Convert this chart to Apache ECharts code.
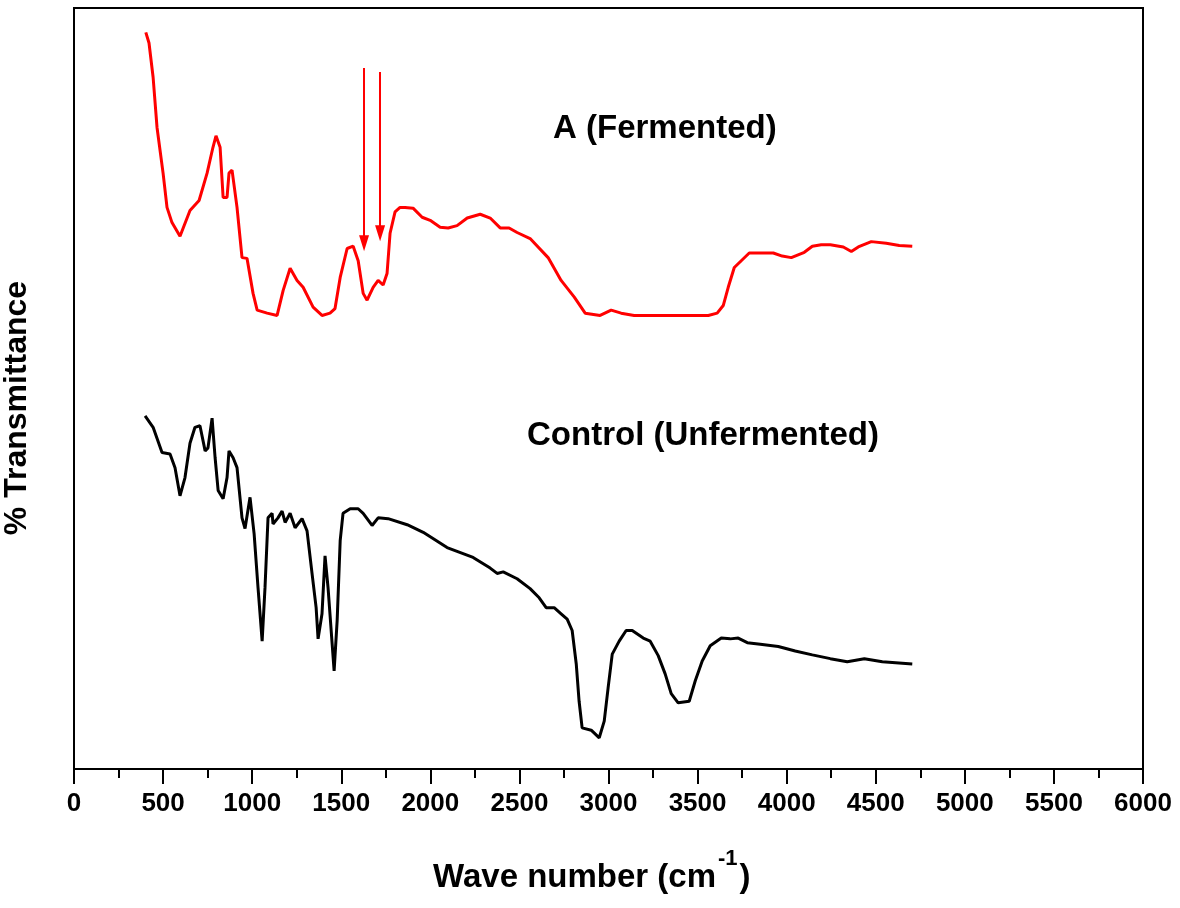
<!DOCTYPE html>
<html>
<head>
<meta charset="utf-8">
<script src="https://cdn.jsdelivr.net/npm/echarts@6/dist/echarts.min.js"></script>
<style>html,body{margin:0;padding:0;background:#fff}#c{width:1180px;height:908px}</style>
</head>
<body>
<div id="c"></div>
<script>
// Wavenumber (cm-1) and relative transmittance (arbitrary 0-100 scale)
const fermentedX = [403,421,444,466,500,522,550,595,651,702,747,780,797,820,837,859,870,887,915,943,971,1005,1028,1084,1140,1174,1213,1252,1286,1342,1392,1437,1465,1494,1533,1567,1595,1623,1645,1679,1707,1735,1757,1774,1802,1830,1858,1903,1954,1999,2055,2100,2150,2207,2280,2336,2392,2442,2487,2560,2661,2734,2808,2869,2953,3015,3071,3144,3560,3610,3644,3672,3706,3790,3925,3975,4026,4099,4144,4194,4245,4318,4363,4402,4475,4559,4632,4705];
const fermentedY = [96.8,95.4,90.9,84.3,78.3,73.8,71.8,70.0,73.4,74.7,78.3,81.7,83.2,81.7,75.1,75.1,78.3,78.7,73.8,67.2,67.1,62.5,60.3,59.9,59.6,62.9,65.8,64.2,63.3,60.7,59.6,59.9,60.5,64.6,68.4,68.7,66.8,62.5,61.6,63.3,64.2,63.6,65.1,70.4,73.2,73.8,73.8,73.7,72.5,72.1,71.2,71.1,71.4,72.4,72.9,72.4,71.1,71.1,70.5,69.7,67.2,64.2,62.0,59.9,59.6,60.3,59.9,59.6,59.6,59.9,60.9,63.3,65.9,67.8,67.8,67.4,67.2,67.9,68.7,68.9,68.9,68.6,68.0,68.6,69.3,69.1,68.8,68.7];
const controlX = [399,444,494,539,567,595,623,651,679,707,736,752,775,792,809,837,859,870,893,915,943,960,988,1011,1033,1056,1072,1089,1112,1117,1145,1168,1185,1213,1241,1280,1308,1336,1359,1370,1392,1409,1426,1449,1460,1477,1494,1510,1550,1595,1623,1673,1707,1763,1870,1960,2094,2240,2336,2375,2409,2487,2560,2611,2650,2695,2734,2768,2796,2819,2835,2852,2903,2948,2976,2998,3021,3060,3099,3133,3195,3234,3279,3318,3352,3391,3453,3487,3526,3571,3633,3683,3728,3779,3852,3953,4048,4144,4245,4340,4436,4537,4705];
const controlY = [46.4,44.9,41.6,41.4,39.6,35.9,38.3,42.8,44.9,45.1,41.8,42.2,46.1,40.9,36.6,35.5,38.3,41.8,40.9,39.6,33.0,31.6,35.7,30.9,23.8,16.8,23.8,33.0,33.6,32.2,33.0,33.9,32.4,33.6,31.7,32.9,31.3,25.7,21.2,17.1,20.4,28.0,23.8,16.4,12.9,19.5,30.0,33.6,34.2,34.2,33.6,32.0,33.0,32.9,32.1,31.1,29.1,27.8,26.4,25.7,25.9,25.0,23.7,22.5,21.2,21.2,20.4,19.7,18.2,13.8,8.9,5.4,5.1,4.1,6.3,10.7,15.1,16.8,18.2,18.2,17.2,16.8,14.9,12.5,9.9,8.7,8.9,11.6,14.2,16.2,17.2,17.1,17.2,16.6,16.4,16.1,15.5,15.0,14.5,14.1,14.5,14.1,13.8];
// Arrow markers on fermented spectrum: [wavenumber, start, end]
const arrowX = [1628, 1718];
const arrowTop = [92.1, 91.6];
const arrowTip = [69.1, 70.4];
const xTicks = {min: 0, max: 6000, interval: 500};
const labels = {fermented: 'A (Fermented)', control: 'Control (Unfermented)', yTitle: '% Transmittance', xTitle: 'Wave number (cm', xSup: '-1'};

const zip = (a, b) => a.map((v, i) => [v, b[i]]);
const FONT = '"Liberation Sans", Arial, sans-serif';

const chart = echarts.init(document.getElementById('c'));
chart.setOption({
  animation: false,
  backgroundColor: '#fff',
  grid: {left: 74, right: 37, top: 8, bottom: 139, show: true, borderColor: '#000', borderWidth: 2, containLabel: false},
  xAxis: {
    type: 'value', min: xTicks.min, max: xTicks.max, interval: xTicks.interval,
    axisLine: {show: true, lineStyle: {color: '#000', width: 2}},
    axisTick: {show: true, length: 15, lineStyle: {color: '#000', width: 2}},
    minorTick: {show: true, splitNumber: 2, length: 9, lineStyle: {color: '#000', width: 2}},
    splitLine: {show: false},
    axisLabel: {color: '#000', fontSize: 26, fontWeight: 'bold', fontFamily: FONT, margin: 22, formatter: v => String(v)}
  },
  yAxis: {
    type: 'value', min: 0, max: 100,
    axisLine: {show: true, lineStyle: {color: '#000', width: 2}},
    axisTick: {show: false}, axisLabel: {show: false}, splitLine: {show: false}
  },
  series: [
    {
      type: 'line', data: zip(fermentedX, fermentedY), showSymbol: false, symbol: 'none',
      lineStyle: {color: '#ff0000', width: 3}, itemStyle: {color: '#ff0000'},
      markLine: {
        silent: true, symbol: ['none', 'triangle'], symbolSize: [10, 16],
        label: {show: false},
        lineStyle: {color: '#ff0000', width: 2, type: 'solid'},
        data: arrowX.map((x, i) => [{coord: [x, arrowTop[i]]}, {coord: [x, arrowTip[i]]}])
      }
    },
    {
      type: 'line', data: zip(controlX, controlY), showSymbol: false, symbol: 'none',
      lineStyle: {color: '#000', width: 3}, itemStyle: {color: '#000'}
    }
  ],
  graphic: [
    {type: 'text', left: 553, top: 112, style: {text: labels.fermented, font: 'bold 33px ' + FONT, fill: '#000'}},
    {type: 'text', left: 527, top: 419, style: {text: labels.control, font: 'bold 33px ' + FONT, fill: '#000'}},
    {type: 'text', x: 33, y: 408, rotation: Math.PI / 2, style: {text: labels.yTitle, font: 'bold 32px ' + FONT, fill: '#000', align: 'center', verticalAlign: 'bottom'}},
    {type: 'text', left: 433, top: 848, style: {
      rich: {
        a: {font: 'bold 33px ' + FONT, fill: '#000', color: '#000', verticalAlign: 'bottom', lineHeight: 46},
        s: {font: 'bold 22px ' + FONT, color: '#000', verticalAlign: 'top', lineHeight: 46, padding: [0, 2, 22, 2]}
      },
      text: '{a|' + labels.xTitle + '}{s|' + labels.xSup + '}{a|)}'
    }}
  ]
});
</script>
</body>
</html>
